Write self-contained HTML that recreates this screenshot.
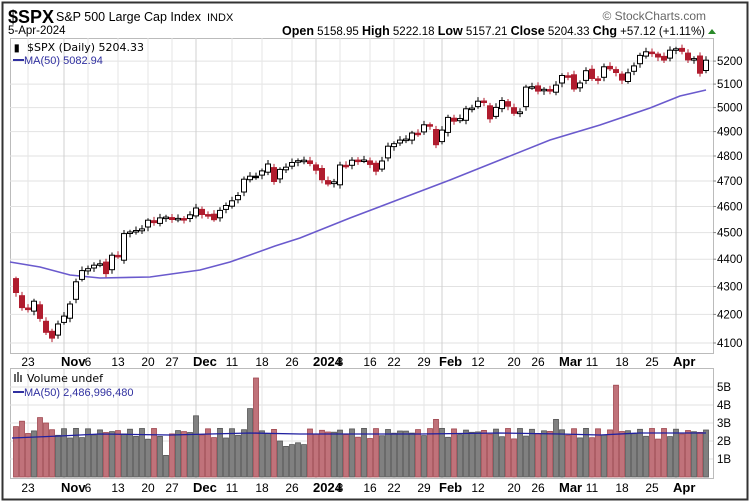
<!DOCTYPE html>
<html><head><meta charset="utf-8"><style>
html,body{margin:0;padding:0;background:#fff;}
svg{display:block;font-family:"Liberation Sans",sans-serif;}
</style></head><body>
<svg id="s" width="750" height="503" xmlns="http://www.w3.org/2000/svg">
<rect x="0" y="0" width="750" height="503" fill="#fff"/>
<rect x="2.5" y="2.5" width="745" height="497" fill="none" stroke="#333" stroke-width="2"/>
<text x="8" y="23" font-size="18" font-weight="bold" fill="#000">$SPX</text>
<text x="56" y="21" font-size="12.5" fill="#000">S&amp;P 500 Large Cap Index</text>
<text x="207" y="21" font-size="11" fill="#000">INDX</text>
<text x="8" y="34" font-size="11.5" fill="#000">5-Apr-2024</text>
<text x="706" y="20" font-size="12" fill="#666" text-anchor="end">© StockCharts.com</text>
<text x="705" y="35" font-size="11.5" text-anchor="end" fill="#000"><tspan font-weight="bold" font-size="12.5">Open</tspan> 5158.95  <tspan font-weight="bold" font-size="12.5">High</tspan> 5222.18  <tspan font-weight="bold" font-size="12.5">Low</tspan> 5157.21  <tspan font-weight="bold" font-size="12.5">Close</tspan> 5204.33  <tspan font-weight="bold" font-size="12.5">Chg</tspan> +57.12 (+1.11%)</text>
<polygon points="708,34 716,34 712,29" fill="#2a8a2a"/>
<g id="g"></g>
</svg>
<script>
var C=[4278,4224,4217,4247,4186,4137,4117,4166,4194,4237,4317,4358,4365,4378,4383,4347,4415,4411,4496,4502,4508,4514,4547,4538,4556,4559,4550,4554,4550,4568,4594,4569,4567,4549,4585,4604,4622,4643,4707,4719,4719,4740,4768,4698,4746,4755,4774,4781,4783,4770,4743,4705,4688,4697,4764,4757,4783,4780,4784,4766,4739,4780,4840,4850,4865,4869,4894,4891,4928,4925,4846,4906,4959,4943,4954,4995,4998,5027,5022,4953,5001,5030,5006,4976,4982,5087,5089,5070,5078,5070,5096,5137,5131,5079,5105,5158,5124,5117,5175,5166,5150,5117,5149,5179,5225,5241,5234,5218,5204,5248,5254,5243,5205,5211,5147,5204];
var g=document.getElementById('g'),h='';
function Y(p){return 10209-1186*Math.log(p);}
function X(i){return 16+i*6;}
var L=10,R=713,T=38,B=353,VT=368,VB=478;
h+='<rect x="'+L+'.5" y="'+T+'.5" width="'+(R-L)+'" height="'+(B-T)+'" fill="#fff" stroke="#bbb"/>';
h+='<rect x="'+L+'.5" y="'+VT+'.5" width="'+(R-L)+'" height="'+(VB-VT)+'" fill="#fff" stroke="#bbb"/>';
for(var p=4100;p<=5200;p+=100){var y=Y(p).toFixed(1);h+='<line x1="'+L+'" x2="'+R+'" y1="'+y+'" y2="'+y+'" stroke="#e2e2e2"/><line x1="'+R+'" x2="'+(R+3)+'" y1="'+y+'" y2="'+y+'" stroke="#888"/><text x="717" y="'+(+y+4)+'" font-size="11.5" fill="#000">'+p+'</text>';}
for(var b=1;b<=5;b++){var y=477-b*18;h+='<line x1="'+L+'" x2="'+R+'" y1="'+y+'" y2="'+y+'" stroke="#e2e2e2"/><text x="717" y="'+(y+4)+'" font-size="11.5">'+b+'B</text>';}
var labs=[[2,'23'],[8,'Nov',1],[12,'6'],[17,'13'],[22,'20'],[26,'27'],[30,'Dec',1],[36,'11'],[41,'18'],[46,'26'],[50,'2024',1],[54,'8'],[59,'16'],[63,'22'],[68,'29'],[71,'Feb',1],[77,'12'],[83,'20'],[87,'26'],[91,'Mar',1],[96,'11'],[101,'18'],[106,'25'],[110,'Apr',1]];
labs.forEach(function(l){var x=X(l[0]);h+='<line x1="'+x+'" x2="'+x+'" y1="'+T+'" y2="'+B+'" stroke="'+(l[2]?'#d0d0d0':'#e6e6e6')+'"/><line x1="'+x+'" x2="'+x+'" y1="'+VT+'" y2="'+VB+'" stroke="'+(l[2]?'#d0d0d0':'#e6e6e6')+'"/>';
 var w=l[2]?'bold':'normal',fs=l[2]?13:12;var tx=l[2]?x-3:x;var anc=l[2]?'start':'middle';
 h+='<text x="'+tx+'" y="366" font-size="'+fs+'" font-weight="'+w+'" text-anchor="'+anc+'" fill="#000">'+l[1]+'</text>';
 h+='<text x="'+tx+'" y="492" font-size="'+fs+'" font-weight="'+w+'" text-anchor="'+anc+'" fill="#000">'+l[1]+'</text>';});
var V=[];for(var i=0;i<C.length;i++){V.push(2.1+0.6*Math.abs(Math.sin(i*1.7+0.3)));}
V[25]=1.2;V[30]=3.4;V[39]=3.8;V[40]=5.5;V[45]=1.7;V[46]=1.8;V[47]=1.9;V[48]=1.8;V[44]=2.0;V[70]=3.2;V[90]=3.2;V[100]=5.1;V[0]=2.8;V[1]=3.1;V[4]=3.3;V[5]=3.0;
for(var i=0;i<C.length;i++){var up=i==0?false:C[i]>=C[i-1];if(i==40)up=false;var x=X(i)-3,y=477-V[i]*18;
 h+='<rect x="'+(x+0.5)+'" y="'+y.toFixed(1)+'" width="5" height="'+(477-y).toFixed(1)+'" fill="'+(up?'#808080':'#c0727a')+'" stroke="'+(up?'#555':'#a04850')+'" stroke-width="0.8"/>';}
h+='<polyline fill="none" stroke="#2020a0" stroke-width="1.3" points="12,438 60,436 100,434 170,435 250,433 300,434 330,434 420,434 500,433 560,434 600,435 640,433 706,433"/>';
h+='<polyline fill="none" stroke="#6a5acd" stroke-width="1.6" points="10,262 40,267 70,275 100,278 150,277 200,270 230,262 250,255 275,246 300,238 350,218 400,199 450,180 500,160 550,140 600,125 650,108 680,96 706,90"/>';
var prev=4321;
for(var i=0;i<C.length;i++){var c=C[i];var o=prev+0.35*(c-prev)*(i%3==0?-0.5:0.6);var up=c>=prev;var rng=c*0.0035;
 var hi=Math.max(o,c)+rng*(0.5+0.5*Math.abs(Math.sin(i))),lo=Math.min(o,c)-rng*(0.5+0.5*Math.abs(Math.cos(i)));
 var col=up?'#000':'#b01c2e';var x=X(i);
 h+='<line x1="'+x+'" x2="'+x+'" y1="'+Y(hi).toFixed(1)+'" y2="'+Y(lo).toFixed(1)+'" stroke="'+col+'"/>';
 var yt=Y(Math.max(o,c)),yb=Y(Math.min(o,c));if(yb-yt<1.5){yb=yt+1.5;}
 h+='<rect x="'+(x-2.5)+'" y="'+yt.toFixed(1)+'" width="5" height="'+(yb-yt).toFixed(1)+'" fill="'+(c>o?'#fff':col)+'" stroke="'+col+'" stroke-width="1"/>';
 prev=c;}
h+='<text x="14" y="51" font-size="10" font-weight="bold">▮</text>';
h+='<text x="27" y="51" font-family="DejaVu Sans, sans-serif" font-size="11" fill="#000">$SPX (Daily) 5204.33</text>';
h+='<line x1="13" x2="24" y1="60" y2="60" stroke="#3030a0" stroke-width="2"/><text x="24" y="64" font-size="11" fill="#3030a0">MA(50) 5082.94</text>';
h+='<rect x="14" y="374" width="2" height="8" fill="#666"/><rect x="17" y="372" width="2" height="10" fill="#666"/><rect x="20" y="375" width="2" height="7" fill="#666"/>';
h+='<text x="27" y="382" font-family="DejaVu Sans, sans-serif" font-size="11" fill="#000">Volume undef</text>';
h+='<line x1="13" x2="24" y1="392" y2="392" stroke="#3030a0" stroke-width="2"/><text x="24" y="396" font-size="11" fill="#3030a0">MA(50) 2,486,996,480</text>';
g.innerHTML=h;
</script>
</body></html>
